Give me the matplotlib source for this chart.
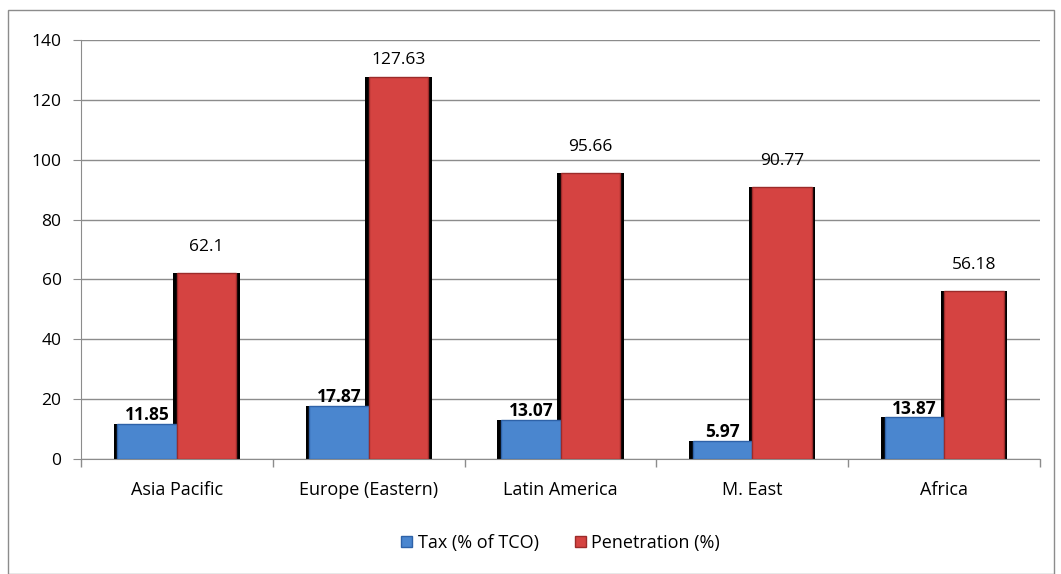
import numpy as np
import matplotlib.pyplot as plt
from matplotlib.patches import Rectangle

regions = ['Asia Pacific', 'Europe (Eastern)', 'Latin America', 'M. East', 'Africa']
tax = [11.85, 17.87, 13.07, 5.97, 13.87]
penetration = [62.1, 127.63, 95.66, 90.77, 56.18]
tax_labels = ['11.85', '17.87', '13.07', '5.97', '13.87']
pen_labels = ['62.1', '127.63', '95.66', '90.77', '56.18']

plt.rcParams['font.family'] = ['Open Sans', 'DejaVu Sans']

fig = plt.figure(figsize=(10.61, 5.74), dpi=100)
fig.patches.append(Rectangle((8 / 1061, 0), 1046 / 1061, 1 - 10 / 574,
                             transform=fig.transFigure, fill=False,
                             edgecolor='#8c8c8c', linewidth=1))
ax = fig.add_axes([81 / 1061, 1 - 459 / 574, (1040 - 81) / 1061, (459 - 40) / 574])

x = np.arange(len(regions))
w = 0.31

# dark shadows behind the bars
ax.bar(x - w / 2, tax, w * 1.12, color='black', zorder=2)
ax.bar(x + w / 2, penetration, w * 1.12, color='black', zorder=2)

ax.bar(x - w / 2, tax, w, color='#4a86cf', edgecolor='#2e62a8', linewidth=1,
       label='Tax (% of TCO)', zorder=3)
ax.bar(x + w / 2, penetration, w, color='#d54341', edgecolor='#9c2b2a', linewidth=1,
       label='Penetration (%)', zorder=3)

for i in range(len(regions)):
    ax.text(x[i] - w / 2, tax[i] + 3.0, tax_labels[i], ha='center', va='center',
            fontsize=12.5, fontweight='bold', zorder=4)
    # labels sit above the bar but stay inside the plot
    ax.text(x[i] + w / 2, min(penetration[i] + 8.7, 133.3), pen_labels[i],
            ha='center', va='center', fontsize=12.5, zorder=4)

ax.set_xlim(-0.5, len(regions) - 0.5)
ax.set_ylim(0, 140)
ax.set_yticks(range(0, 141, 20))
ax.set_xticks(x)
ax.set_xticklabels(regions, fontsize=13)
ax.set_xticks(np.arange(-0.5, len(regions), 1), minor=True)
ax.tick_params(axis='x', which='major', length=0, pad=16)
ax.tick_params(axis='x', which='minor', length=6, color='#8c8c8c', width=1)
ax.tick_params(axis='y', length=6, color='#8c8c8c', labelsize=12.5, pad=8)

ax.yaxis.grid(True, color='#8c8c8c', linewidth=1)
ax.set_axisbelow(True)
for s in ['top', 'right']:
    ax.spines[s].set_visible(False)
for s in ['left', 'bottom']:
    ax.spines[s].set_color('#8c8c8c')

ax.legend(loc='center', bbox_to_anchor=(0.5, -0.2), ncol=2, frameon=False,
          fontsize=13, handlelength=0.6, handleheight=0.6, columnspacing=2,
          handletextpad=0.3)

fig.savefig('out.png', dpi=100)
